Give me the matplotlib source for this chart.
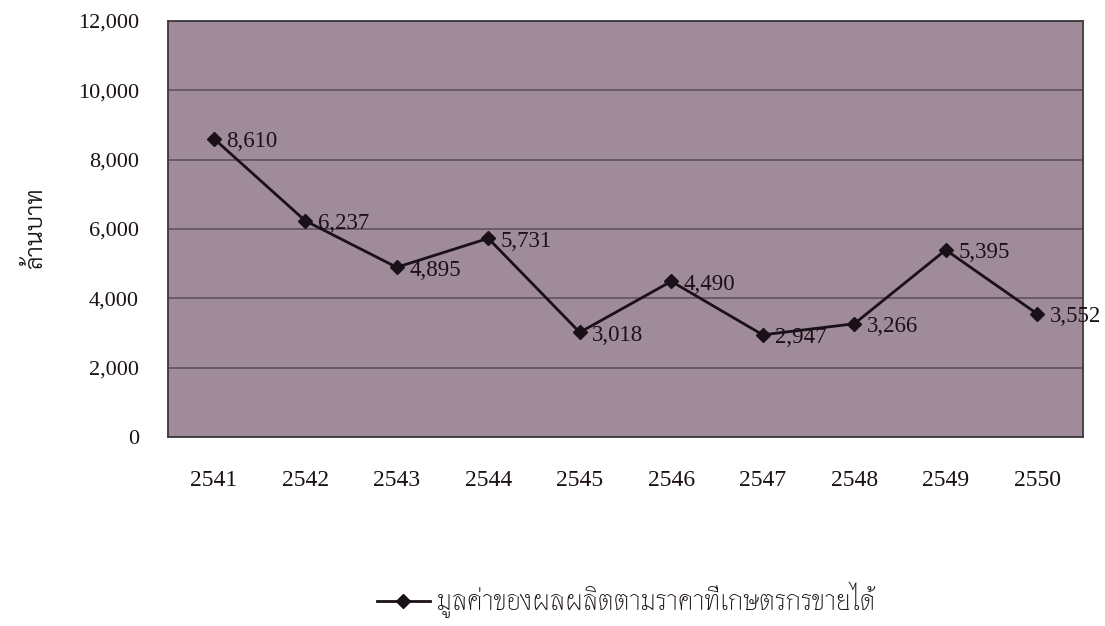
import matplotlib
matplotlib.use("Agg")
import matplotlib.pyplot as plt

years = ["2541", "2542", "2543", "2544", "2545", "2546", "2547", "2548", "2549", "2550"]
values = [8610, 6237, 4895, 5731, 3018, 4490, 2947, 3266, 5395, 3552]
y_label = "ล้านบาท"
series_name = "มูลค่าของผลผลิตตามราคาที่เกษตรกรขายได้"

serif = ["Liberation Serif", "DejaVu Serif"]
label_family = ["Sarabun", "Noto Sans", "DejaVu Sans"]
legend_family = ["Thasadith", "Kanit", "Sarabun", "DejaVu Sans"]
ink = "#1a1018"

fig = plt.figure(figsize=(11.05, 6.26), dpi=100)
ax = fig.add_axes([168 / 1105, 1 - 437 / 626, 915 / 1105, 416 / 626])
ax.set_facecolor("#9f8b99")

x = list(range(len(years)))
ax.plot(x, values, color=ink, lw=2, marker="D", ms=7, label=series_name)
for xi, v in zip(x, values):
    ax.annotate(f"{v:,}", (xi, v), xytext=(9, -2), textcoords="offset points",
                va="center", ha="left", fontsize=16.5, family=serif, color=ink)

ax.set_xlim(-0.5, len(years) - 0.5)
ax.set_ylim(0, 12000)
ticks = list(range(0, 12001, 2000))
ax.set_yticks(ticks)
ax.set_yticklabels([f"{t:,}" for t in ticks], family=serif, fontsize=16, color=ink)
ax.set_xticks(x)
ax.set_xticklabels(years, family=serif, fontsize=17, color=ink)
ax.tick_params(axis="x", length=0, pad=24)
ax.tick_params(axis="y", length=0, pad=21)
ax.grid(axis="y", color="#5c4c58", lw=1.1)
ax.set_axisbelow(True)
for s in ax.spines.values():
    s.set_color("#3c383c")
    s.set_linewidth(1.3)

fig.text(36 / 1105, 1 - 228 / 626, y_label, rotation=90, va="center", ha="center",
         fontsize=17, family=label_family, fontweight=300, color=ink)

fig.legend(loc="center", bbox_to_anchor=(626 / 1105, 1 - 600 / 626),
           frameon=False, prop={"family": legend_family, "size": 20},
           handlelength=1.9, handletextpad=0.25, labelcolor=ink)

fig.savefig("out.png", dpi=100)
